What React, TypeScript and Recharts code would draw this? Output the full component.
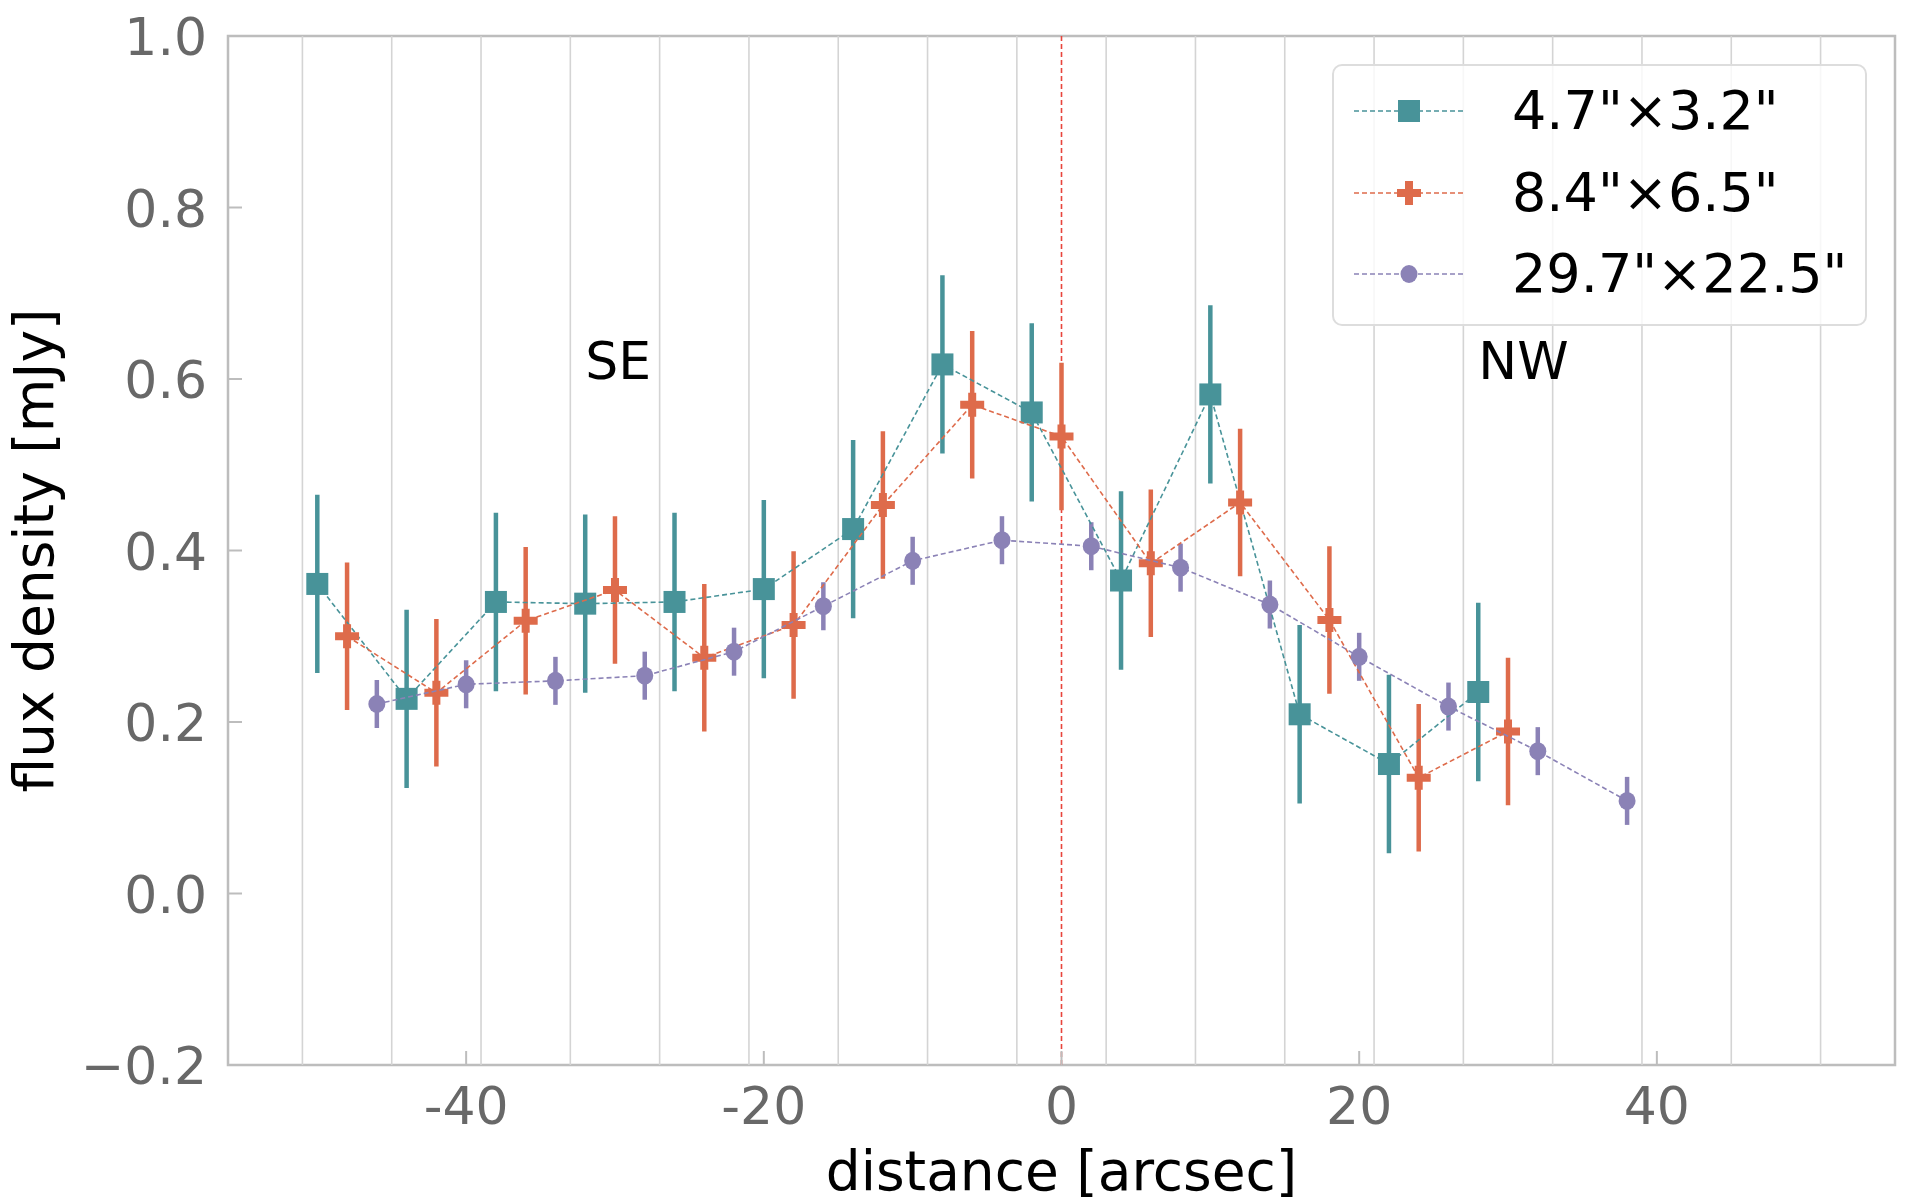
import { ComposedChart, Scatter, ErrorBar, XAxis, YAxis, ReferenceLine, ReferenceArea, ReferenceDot, Legend } from 'recharts';

// flux profile along the SE-NW cut, three beam sizes
const tealX = [-50, -44, -38, -32, -26, -20, -14, -8, -2, 4, 10, 16, 22, 28];
const tealY = [0.361, 0.227, 0.34, 0.338, 0.34, 0.355, 0.425, 0.617, 0.561, 0.365, 0.582, 0.209, 0.151, 0.235];
const tealErr = [0.104, 0.104, 0.104, 0.104, 0.104, 0.104, 0.104, 0.104, 0.104, 0.104, 0.104, 0.104, 0.104, 0.104];

const orangeX = [-48, -42, -36, -30, -24, -18, -12, -6, 0, 6, 12, 18, 24, 30];
const orangeY = [0.3, 0.234, 0.318, 0.354, 0.275, 0.313, 0.453, 0.57, 0.533, 0.385, 0.456, 0.319, 0.135, 0.189];
const orangeErr = [0.086, 0.086, 0.086, 0.086, 0.086, 0.086, 0.086, 0.086, 0.086, 0.086, 0.086, 0.086, 0.086, 0.086];

const purpleX = [-46, -40, -34, -28, -22, -16, -10, -4, 2, 8, 14, 20, 26, 32, 38];
const purpleY = [0.221, 0.244, 0.248, 0.254, 0.282, 0.335, 0.388, 0.412, 0.405, 0.38, 0.337, 0.276, 0.218, 0.166, 0.108];
const purpleErr = [0.028, 0.028, 0.028, 0.028, 0.028, 0.028, 0.028, 0.028, 0.028, 0.028, 0.028, 0.028, 0.028, 0.028, 0.028];

const seriesNames = ['4.7"×3.2"', '8.4"×6.5"', '29.7"×22.5"'];
const xTicks = [-40, -20, 0, 20, 40];
const yTicks = [-0.2, 0, 0.2, 0.4, 0.6, 0.8, 1.0];
const gridX = [-51, -45, -39, -33, -27, -21, -15, -9, -3, 3, 9, 15, 21, 27, 33, 39, 45, 51];
const annotations = [
  { x: -32, y: 0.6, text: 'SE' },
  { x: 28, y: 0.6, text: 'NW' },
];

const TEAL = '#489399';
const ORANGE = '#de6b4b';
const PURPLE = '#8b82b6';
const SPINE = '#bdbdbd';
const FONT = '"DejaVu Sans", sans-serif';

const W = 1914;
const H = 1204;
const Y_AXIS_W = 228;
const X_AXIS_H = 139;
const PLOT_LEFT = Y_AXIS_W;
const PLOT_BOTTOM = H - X_AXIS_H;

const toRows = (xs: number[], ys: number[], errs: number[]) =>
  xs.map((x, i) => ({ x, y: ys[i], err: errs[i] }));

const tealData = toRows(tealX, tealY, tealErr);
const orangeData = toRows(orangeX, orangeY, orangeErr);
const purpleData = toRows(purpleX, purpleY, purpleErr);

const Square = ({ cx, cy, fill }: any) => <rect x={cx - 11} y={cy - 11} width={22} height={22} fill={fill} />;
const Plus = ({ cx, cy, fill }: any) => (
  <path
    d={`M${cx - 4},${cy - 12}h8v8h8v8h-8v8h-8v-8h-8v-8h8z`}
    fill={fill}
  />
);
const Dot = ({ cx, cy, fill }: any) => <ellipse cx={cx} cy={cy} rx={8.5} ry={9} fill={fill} />;

const legendRows = [
  { name: seriesNames[0], color: TEAL, Shape: Square },
  { name: seriesNames[1], color: ORANGE, Shape: Plus },
  { name: seriesNames[2], color: PURPLE, Shape: Dot },
];

const fmtY = (v: number) => (v < 0 ? '\u2212' + Math.abs(v).toFixed(1) : v.toFixed(1));

const XTick = ({ x, payload }: any) => (
  <g>
    <line x1={x} x2={x} y1={PLOT_BOTTOM} y2={PLOT_BOTTOM - 14} stroke={SPINE} strokeWidth={2} />
    <text x={x} y={PLOT_BOTTOM + 59} textAnchor="middle" fontSize={52} fill="#686868" fontFamily={FONT}>
      {String(payload.value)}
    </text>
  </g>
);

const YTick = ({ y, payload }: any) => (
  <g>
    <line x1={PLOT_LEFT} x2={PLOT_LEFT + 14} y1={y} y2={y} stroke={SPINE} strokeWidth={2} />
    <text x={PLOT_LEFT - 21} y={y + 19} textAnchor="end" fontSize={52} fill="#686868" fontFamily={FONT}>
      {fmtY(payload.value)}
    </text>
  </g>
);

const renderLegend = () => (
  <div
    style={{
      position: 'relative',
      width: 535,
      height: 262,
      boxSizing: 'border-box',
      border: '2.5px solid #dddddd',
      borderRadius: 10,
      background: 'rgba(255,255,255,0.8)',
    }}
  >
    {legendRows.map((row, i) => (
      <div key={row.name} style={{ position: 'absolute', left: 0, top: 45 + i * 81.5 - 30, height: 60, width: 535 }}>
        <svg width={140} height={60} style={{ position: 'absolute', left: 0, top: 0 }}>
          <line x1={20} x2={130} y1={30} y2={30} stroke={row.color} strokeWidth={1.6} strokeDasharray="5 3" />
          <row.Shape cx={75} cy={30} fill={row.color} />
        </svg>
        <span
          style={{
            position: 'absolute',
            left: 178,
            top: 0,
            lineHeight: '60px',
            fontSize: 54,
            fontFamily: FONT,
            color: '#000',
            whiteSpace: 'nowrap',
          }}
        >
          {row.name}
        </span>
      </div>
    ))}
  </div>
);

const renderNote = (text: string) => (props: any) => {
  const { viewBox } = props;
  return (
    <text x={viewBox.x} y={viewBox.y} fontSize={52} fontFamily={FONT} fill="#000">
      {text}
    </text>
  );
};

export default function App() {
  return (
    <div style={{ position: 'absolute', left: 0, top: 0, background: '#fff' }}>
      <ComposedChart
        width={W}
        height={H}
        margin={{ top: 36, right: 19, bottom: 0, left: 0 }}
        style={{ fontFamily: FONT }}
      >
        <XAxis
          type="number"
          dataKey="x"
          domain={[-56, 56]}
          ticks={xTicks}
          allowDataOverflow
          height={X_AXIS_H}
          axisLine={false}
          tickLine={false}
          tick={XTick}
          label={(props: any) => {
            const vb = props.viewBox;
            return (
              <text x={vb.x + vb.width / 2} y={vb.y + 125} textAnchor="middle" fontSize={55} fontFamily={FONT} fill="#000">
                distance [arcsec]
              </text>
            );
          }}
        />
        <YAxis
          type="number"
          dataKey="y"
          domain={[-0.2, 1.0]}
          ticks={yTicks}
          allowDataOverflow
          width={Y_AXIS_W}
          axisLine={false}
          tickLine={false}
          tick={YTick}
          label={(props: any) => {
            const vb = props.viewBox;
            const cy = vb.y + vb.height / 2;
            return (
              <text x={53} y={cy} transform={`rotate(-90, 53, ${cy})`} textAnchor="middle" fontSize={55} fontFamily={FONT} fill="#000">
                flux density [mJy]
              </text>
            );
          }}
        />
        {gridX.map((g) => (
          <ReferenceLine key={g} x={g} stroke="#d4d4d4" strokeWidth={1.6} />
        ))}
        <ReferenceLine x={0} stroke="#e8453c" strokeWidth={1.6} strokeDasharray="5 3" />
        <Scatter
          name={seriesNames[0]}
          data={tealData}
          fill={TEAL}
          shape={Square}
          line={{ stroke: TEAL, strokeWidth: 1.6, strokeDasharray: '5 3' }}
          lineType="joint"
          isAnimationActive={false}
        >
          <ErrorBar dataKey="err" direction="y" width={0} strokeWidth={4.5} stroke={TEAL} />
        </Scatter>
        <Scatter
          name={seriesNames[1]}
          data={orangeData}
          fill={ORANGE}
          shape={Plus}
          line={{ stroke: ORANGE, strokeWidth: 1.6, strokeDasharray: '5 3' }}
          lineType="joint"
          isAnimationActive={false}
        >
          <ErrorBar dataKey="err" direction="y" width={0} strokeWidth={4.5} stroke={ORANGE} />
        </Scatter>
        <Scatter
          name={seriesNames[2]}
          data={purpleData}
          fill={PURPLE}
          shape={Dot}
          line={{ stroke: PURPLE, strokeWidth: 1.6, strokeDasharray: '5 3' }}
          lineType="joint"
          isAnimationActive={false}
        >
          <ErrorBar dataKey="err" direction="y" width={0} strokeWidth={4.5} stroke={PURPLE} />
        </Scatter>
        {annotations.map((a) => (
          <ReferenceDot key={a.text} x={a.x} y={a.y} r={0} fill="none" stroke="none" label={renderNote(a.text)} />
        ))}
        <ReferenceArea x1={-56} x2={56} y1={-0.2} y2={1.0} fill="none" stroke={SPINE} strokeWidth={2.5} />
        <Legend
          verticalAlign="middle"
          align="center"
          layout="horizontal"
          content={renderLegend}
          wrapperStyle={{ left: 1332, top: 64, width: 535, height: 262 }}
        />
      </ComposedChart>
    </div>
  );
}
